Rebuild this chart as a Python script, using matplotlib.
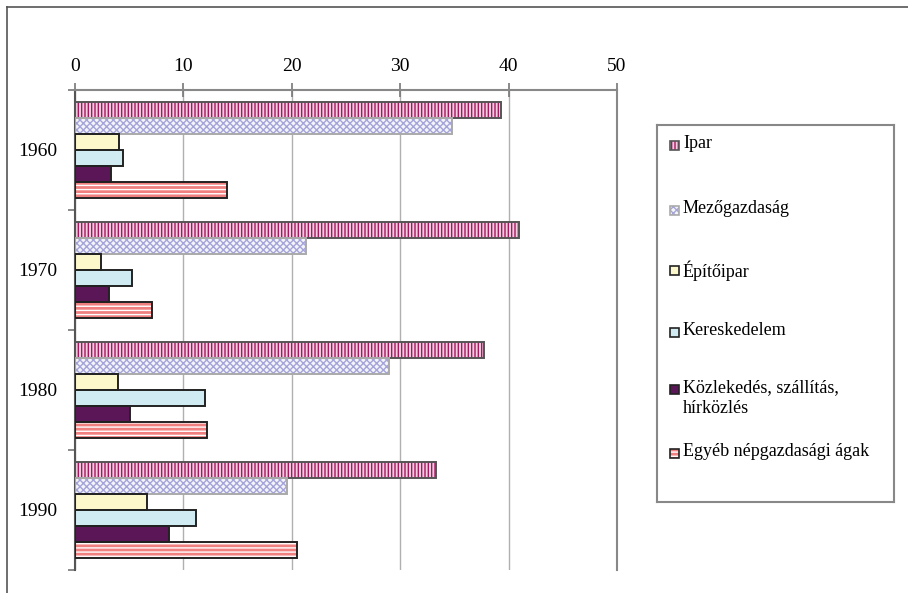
import numpy as np
import matplotlib.pyplot as plt
from matplotlib.patches import Rectangle
from matplotlib.lines import Line2D

plt.rcParams['font.family'] = ['Liberation Serif', 'DejaVu Serif']
plt.rcParams['hatch.linewidth'] = 1.0

years = ['1960', '1970', '1980', '1990']
sectors = ['Ipar', 'Mezőgazdaság', 'Építőipar', 'Kereskedelem',
           'Közlekedés, szállítás,\nhírközlés', 'Egyéb népgazdasági ágak']

ipar = [39.3, 41.0, 37.7, 33.3]
mezogazdasag = [34.8, 21.3, 29.0, 19.6]
epitoipar = [4.1, 2.4, 4.0, 6.6]
kereskedelem = [4.4, 5.3, 12.0, 11.2]
kozlekedes = [3.3, 3.1, 5.1, 8.7]
egyeb = [14.0, 7.1, 12.2, 20.5]
series = [ipar, mezogazdasag, epitoipar, kereskedelem, kozlekedes, egyeb]

# face, hatch, hatch colour, edge colour
styles = [
    ('#f2cde0', '|||||', '#a3185e', '#555555'),
    ('#f4f4fb', 'xxxxx', '#a4a4d8', '#aaaaaa'),
    ('#fdf8cc', None, '#222222', '#222222'),
    ('#d0ecf2', None, '#222222', '#222222'),
    ('#5a1656', None, '#222222', '#222222'),
    ('#f08080', '----', '#ffffff', '#222222'),
]

W, H = 908, 593
fig = plt.figure(figsize=(W / 100, H / 100), dpi=100)
ax = fig.add_axes([75 / W, 23 / H, 542 / W, 480 / H])

n = len(series)
h = 0.8 / n
pos = np.arange(len(years))
for i, vals in enumerate(series):
    face, hatch, hcol, edge = styles[i]
    y = pos - 0.4 + (i + 0.5) * h
    ax.barh(y, vals, height=h, color=face, hatch=hatch, edgecolor=hcol,
            linewidth=0, zorder=2)
    ax.barh(y, vals, height=h, fill=False, edgecolor=edge, linewidth=1.4,
            zorder=3)

ax.set_xlim(0, 50)
ax.set_ylim(3.5, -0.5)
ax.set_xticks(range(0, 51, 10))
ax.xaxis.tick_top()
ax.tick_params(axis='x', direction='inout', length=10, width=1.2,
               color='#777777', labelsize=14, pad=6)
ax.set_yticks(pos, years)
ax.set_yticks([-0.5, 0.5, 1.5, 2.5, 3.5], minor=True)
ax.tick_params(axis='y', which='major', length=0, labelsize=14, pad=13)
ax.tick_params(axis='y', which='minor', length=5, width=1.2,
               color='#777777', direction='out')
ax.xaxis.grid(True, color='#b0b0b0', linewidth=1)
ax.set_axisbelow(True)

ax.spines['bottom'].set_visible(False)
ax.spines['top'].set_color('#888888')
ax.spines['right'].set_color('#888888')
ax.spines['left'].set_color('#555555')
for s in ['top', 'right', 'left']:
    ax.spines[s].set_linewidth(1.5)

# outer frame (top and left only)
fig.add_artist(Line2D([7 / W, 1], [1 - 7 / H, 1 - 7 / H], color='#555555',
                      lw=1.2, transform=fig.transFigure))
fig.add_artist(Line2D([7 / W, 7 / W], [0, 1 - 7 / H], color='#555555',
                      lw=1.2, transform=fig.transFigure))

# legend box
lx0, lx1, ly0, ly1 = 657, 894, 125, 502
lax = fig.add_axes([lx0 / W, (H - ly1) / H, (lx1 - lx0) / W, (ly1 - ly0) / H])
lax.set_xlim(lx0, lx1)
lax.set_ylim(ly1, ly0)
lax.set_xticks([])
lax.set_yticks([])
for s in lax.spines.values():
    s.set_color('#888888')
    s.set_linewidth(1.5)

rows = [145, 210, 270, 332, 389, 453]
for i, label in enumerate(sectors):
    face, hatch, hcol, edge = styles[i]
    yc = rows[i]
    lax.add_patch(Rectangle((670, yc - 4.5), 9, 9, facecolor=face, hatch=hatch,
                            edgecolor=hcol, linewidth=0))
    lax.add_patch(Rectangle((670, yc - 4.5), 9, 9, fill=False, edgecolor=edge,
                            linewidth=1.2))
    lax.text(683, yc - 10, label, fontsize=13, va='top', ha='left',
             linespacing=1.3)

fig.savefig('out.png', dpi=100)
